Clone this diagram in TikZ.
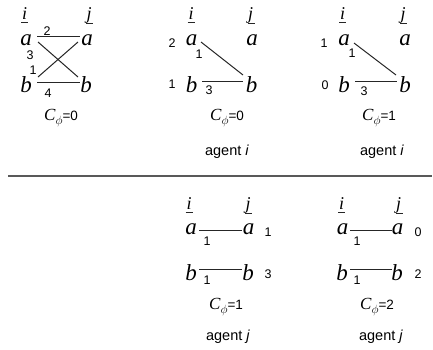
\documentclass[tikz,border=0pt]{standalone}
\usepackage{fontspec}
\setmainfont{Liberation Serif}
\setsansfont{Liberation Sans}
\begin{document}
\begin{tikzpicture}[x=1pt,y=-1pt,
  letter/.style={inner sep=0pt,anchor=base,font=\fontsize{23}{23}\selectfont\itshape},
  head/.style={inner sep=0pt,anchor=base,font=\fontsize{18}{18}\selectfont\itshape},
  num/.style={inner sep=0pt,font=\sffamily\fontsize{12.5}{12.5}\selectfont},
  cost/.style={inner sep=0pt,font=\fontsize{17}{17}\selectfont},
  who/.style={inner sep=0pt,font=\sffamily\fontsize{14.5}{14.5}\selectfont},
  edge/.style={line width=1pt,black!85},
  ul/.style={line width=0.7pt,black!85},
  sep/.style={line width=1.2pt,black!65}]
\newcommand\costtxt[1]{\textit{C}\raisebox{-4pt}{\fontsize{13}{13}\selectfont$\phi$}\sffamily\fontsize{13.5}{13.5}\selectfont=#1}
\useasboundingbox (0,0) rectangle (433,349);

% ---------- panel 1 ----------
\node[head] (p1i) at (24.5,19) {i};
\node[head] (p1j) at (89,19) {j};
\node[letter] (p1al) at (26,45) {a};
\node[letter] (p1ar) at (87,45) {a};
\node[letter] (p1bl) at (26,92) {b};
\node[letter] (p1br) at (86,92) {b};
\node[num] (p1n2) at (47,31.5) {2};
\node[num] (p1n3) at (30,55) {3};
\node[num] (p1n1) at (33,70) {1};
\node[num] (p1n4) at (48,93) {4};
\node[cost] (p1c) at (61,118) {\costtxt{0}};
\draw[ul] ([shift={(-3.5,3)}]p1i.base) -- ([shift={(3.5,3)}]p1i.base);
\draw[ul] ([shift={(-3,4.5)}]p1j.base) -- ([shift={(4,4.5)}]p1j.base);
\draw[edge] ([shift={(11,-9)}]p1al.base) -- ([shift={(-7,-9)}]p1ar.base);
\draw[edge] ([shift={(11,-10)}]p1bl.base) -- ([shift={(-6,-10)}]p1br.base);
\draw[edge] ([shift={(12,-3)}]p1al.base) -- ([shift={(-8,-15)}]p1br.base);
\draw[edge] ([shift={(-9,-3)}]p1ar.base) -- ([shift={(12,-15)}]p1bl.base);

% ---------- panel 2 ----------
\node[head] (p2i) at (191,19) {i};
\node[head] (p2j) at (250.5,19) {j};
\node[letter] (p2al) at (191.5,45) {a};
\node[letter] (p2ar) at (252,45) {a};
\node[letter] (p2bl) at (191.5,92) {b};
\node[letter] (p2br) at (251.5,92) {b};
\node[num] (p2ua) at (172,43) {2};
\node[num] (p2ub) at (172,84) {1};
\node[num] (p2wd) at (199,54) {1};
\node[num] (p2wb) at (209,90) {3};
\node[cost] (p2c) at (227,118) {\costtxt{0}};
\node[who] (p2w) at (227,152) {agent \textit{i}};
\draw[ul] ([shift={(-3.5,3)}]p2i.base) -- ([shift={(3.5,3)}]p2i.base);
\draw[ul] ([shift={(-3,4.5)}]p2j.base) -- ([shift={(4,4.5)}]p2j.base);
\draw[edge] ([shift={(9.5,-3)}]p2al.base) -- ([shift={(-8.5,-17)}]p2br.base);
\draw[edge] ([shift={(10.5,-11)}]p2bl.base) -- ([shift={(-8.5,-11)}]p2br.base);

% ---------- panel 3 ----------
\node[head] (p3i) at (342.5,19) {i};
\node[head] (p3j) at (403,19) {j};
\node[letter] (p3al) at (344,45) {a};
\node[letter] (p3ar) at (405,45) {a};
\node[letter] (p3bl) at (344,92) {b};
\node[letter] (p3br) at (405,92) {b};
\node[num] (p3ua) at (324,43) {1};
\node[num] (p3ub) at (325,85) {0};
\node[num] (p3wd) at (352,53) {1};
\node[num] (p3wb) at (364,91) {3};
\node[cost] (p3c) at (379,118) {\costtxt{1}};
\node[who] (p3w) at (382,152) {agent \textit{i}};
\draw[ul] ([shift={(-3.5,3)}]p3i.base) -- ([shift={(3.5,3)}]p3i.base);
\draw[ul] ([shift={(-3,4.5)}]p3j.base) -- ([shift={(4,4.5)}]p3j.base);
\draw[edge] ([shift={(10,-2)}]p3al.base) -- ([shift={(-9,-17)}]p3br.base);
\draw[edge] ([shift={(11,-11)}]p3bl.base) -- ([shift={(-8,-11)}]p3br.base);

% ---------- separator ----------
\coordinate (sepL) at (8,176);
\coordinate (sepR) at (432,176);
\draw[sep] (sepL) -- (sepR);

% ---------- panel 4 ----------
\node[head] (p4i) at (189,209) {i};
\node[head] (p4j) at (248,209) {j};
\node[letter] (p4al) at (191,234) {a};
\node[letter] (p4ar) at (248.5,234) {a};
\node[letter] (p4bl) at (191,280) {b};
\node[letter] (p4br) at (248,280) {b};
\node[num] (p4wa) at (207,241) {1};
\node[num] (p4wb) at (207,280) {1};
\node[num] (p4ua) at (268,232) {1};
\node[num] (p4ub) at (268,274) {3};
\node[cost] (p4c) at (226,307) {\costtxt{1}};
\node[who] (p4w) at (228,337) {agent \textit{j}};
\draw[ul] ([shift={(-3.5,3)}]p4i.base) -- ([shift={(3.5,3)}]p4i.base);
\draw[ul] ([shift={(-3,4.5)}]p4j.base) -- ([shift={(4,4.5)}]p4j.base);
\draw[edge] ([shift={(8,-4)}]p4al.base) -- ([shift={(-6.5,-4)}]p4ar.base);
\draw[edge] ([shift={(8,-11)}]p4bl.base) -- ([shift={(-6,-11)}]p4br.base);

% ---------- panel 5 ----------
\node[head] (p5i) at (341.5,209) {i};
\node[head] (p5j) at (398.5,209) {j};
\node[letter] (p5al) at (342.5,234) {a};
\node[letter] (p5ar) at (397.5,234) {a};
\node[letter] (p5bl) at (342,280) {b};
\node[letter] (p5br) at (397,280) {b};
\node[num] (p5wa) at (357,241) {1};
\node[num] (p5wb) at (357,280) {1};
\node[num] (p5ua) at (418,232) {0};
\node[num] (p5ub) at (418,274) {2};
\node[cost] (p5c) at (377,307) {\costtxt{2}};
\node[who] (p5w) at (381,337) {agent \textit{j}};
\draw[ul] ([shift={(-3.5,3)}]p5i.base) -- ([shift={(3.5,3)}]p5i.base);
\draw[ul] ([shift={(-3,4.5)}]p5j.base) -- ([shift={(4,4.5)}]p5j.base);
\draw[edge] ([shift={(7.5,-4)}]p5al.base) -- ([shift={(-5.5,-4)}]p5ar.base);
\draw[edge] ([shift={(8,-11)}]p5bl.base) -- ([shift={(-5,-11)}]p5br.base);
\end{tikzpicture}
\end{document}
